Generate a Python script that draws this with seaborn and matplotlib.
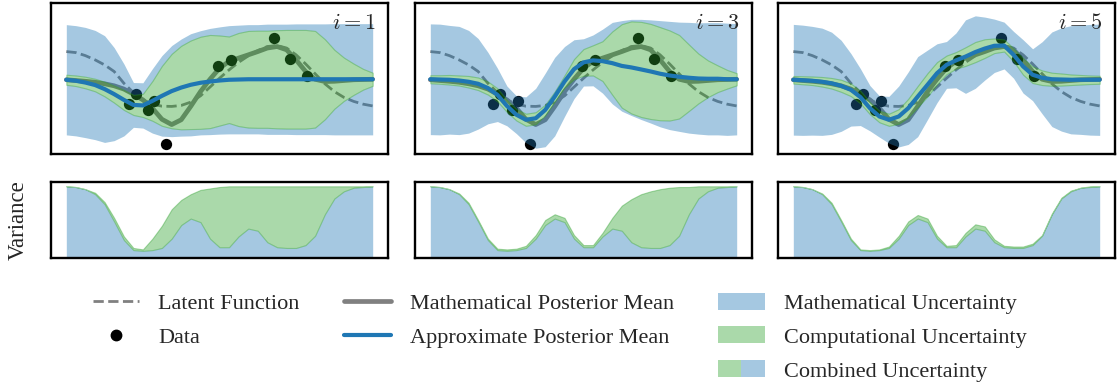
import numpy as np
import matplotlib
matplotlib.use("Agg")
import matplotlib.pyplot as plt
import seaborn as sns
from matplotlib.lines import Line2D
from matplotlib.patches import Patch
from matplotlib.legend_handler import HandlerTuple

# ---------------------------------------------------------------------------
# Data
# ---------------------------------------------------------------------------
iterations = [1, 3, 5]

x_grid = [0.000, 0.031, 0.062, 0.094, 0.125, 0.156, 0.188, 0.219, 0.250, 0.281,
          0.312, 0.344, 0.375, 0.406, 0.438, 0.469, 0.500, 0.531, 0.562, 0.594,
          0.625, 0.656, 0.688, 0.719, 0.750, 0.781, 0.812, 0.844, 0.875, 0.906,
          0.938, 0.969, 1.000]

data_x = [0.206, 0.228, 0.266, 0.285, 0.326, 0.495, 0.536, 0.678, 0.731, 0.784]
data_y = [-1.01, -0.61, -1.27, -0.91, -2.60, 0.48, 0.74, 1.60, 0.78, 0.11]

latent = [1.07, 1.03, 0.91, 0.74, 0.54, 0.28, -0.19, -0.56, -0.85, -1.02,
          -1.10, -1.11, -1.07, -0.94, -0.69, -0.34, 0.01, 0.34, 0.64, 0.90,
          1.11, 1.27, 1.31, 1.21, 0.94, 0.58, 0.19, -0.21, -0.52, -0.75,
          -0.91, -1.02, -1.09]

math_mean = [-0.05, -0.08, -0.11, -0.15, -0.21, -0.29, -0.42, -0.62, -0.85, -1.18,
             -1.62, -1.83, -1.64, -1.11, -0.52, -0.03, 0.41, 0.68, 0.81, 0.94,
             1.07, 1.21, 1.27, 1.14, 0.74, 0.28, -0.03, -0.12, -0.11, -0.08,
             -0.05, -0.04, -0.03]

# approximate posterior mean after i iterations
approx_mean_i1 = [-0.05, -0.09, -0.16, -0.26, -0.42, -0.62, -0.85, -1.05, -1.07, -0.89,
                  -0.69, -0.50, -0.36, -0.25, -0.17, -0.12, -0.08, -0.05, -0.04, -0.03,
                  -0.03, -0.03, -0.03, -0.03, -0.03, -0.03, -0.03, -0.03, -0.03, -0.03,
                  -0.03, -0.03, -0.03]
approx_mean_i3 = [-0.03, -0.04, -0.05, -0.08, -0.13, -0.21, -0.38, -0.65, -1.09, -1.44,
                  -1.64, -1.58, -1.25, -0.72, -0.12, 0.37, 0.64, 0.72, 0.69, 0.61,
                  0.50, 0.44, 0.36, 0.28, 0.19, 0.12, 0.07, 0.03, 0.00, -0.01,
                  -0.01, -0.03, -0.03]
approx_mean_i5 = [-0.05, -0.07, -0.09, -0.13, -0.19, -0.29, -0.45, -0.74, -1.18, -1.51,
                  -1.64, -1.51, -1.18, -0.72, -0.25, 0.21, 0.54, 0.72, 0.87, 1.05,
                  1.19, 1.30, 1.31, 0.94, 0.48, 0.15, 0.03, -0.03, -0.04, -0.05,
                  -0.05, -0.05, -0.05]

# half-width of the combined (outer) uncertainty band
combined_band_i1 = [2.19, 2.19, 2.19, 2.17, 2.12, 1.85, 1.43, 0.89, 0.90, 1.28,
                    1.60, 1.81, 1.93, 2.03, 2.07, 2.11, 2.13, 2.15, 2.16, 2.17,
                    2.17, 2.19, 2.19, 2.19, 2.20, 2.20, 2.20, 2.20, 2.21, 2.21,
                    2.21, 2.21, 2.21]
combined_band_i3 = [2.20, 2.20, 2.16, 2.15, 2.04, 1.80, 1.42, 1.06, 0.79, 0.75,
                    0.91, 1.19, 1.46, 1.56, 1.39, 1.17, 0.94, 1.01, 1.27, 1.62,
                    1.80, 1.91, 1.99, 2.05, 2.11, 2.15, 2.17, 2.20, 2.21, 2.23,
                    2.23, 2.23, 2.21]
combined_band_i5 = [2.20, 2.19, 2.16, 2.13, 2.03, 1.81, 1.44, 1.13, 0.90, 0.82,
                    0.93, 1.21, 1.44, 1.59, 1.38, 1.17, 0.93, 1.09, 1.46, 1.44,
                    1.25, 1.06, 0.93, 0.93, 1.06, 1.03, 1.43, 1.88, 2.05, 2.15,
                    2.17, 2.20, 2.21]

# half-width of the computational uncertainty band
comp_band_i1 = [0.20, 0.21, 0.23, 0.25, 0.29, 0.34, 0.40, 0.40, 0.46, 0.79,
                1.19, 1.48, 1.66, 1.76, 1.83, 1.85, 1.79, 1.72, 1.85, 1.92,
                1.93, 1.93, 1.95, 1.96, 1.96, 1.96, 1.92, 1.59, 1.17, 0.86,
                0.62, 0.41, 0.26]
comp_band_i3 = [0.16, 0.17, 0.19, 0.20, 0.23, 0.25, 0.26, 0.26, 0.24, 0.23,
                0.24, 0.24, 0.21, 0.20, 0.24, 0.40, 0.53, 0.60, 0.79, 1.26,
                1.66, 1.83, 1.89, 1.89, 1.85, 1.79, 1.66, 1.32, 0.99, 0.73,
                0.53, 0.37, 0.24]
comp_band_i5 = [0.15, 0.16, 0.17, 0.19, 0.21, 0.24, 0.25, 0.25, 0.24, 0.23,
                0.24, 0.29, 0.37, 0.42, 0.46, 0.44, 0.37, 0.33, 0.37, 0.40,
                0.37, 0.29, 0.24, 0.26, 0.33, 0.33, 0.29, 0.26, 0.24, 0.21,
                0.19, 0.17, 0.16]

# variances (relative to the prior variance)
math_var = [1.00, 0.99, 0.96, 0.89, 0.75, 0.51, 0.25, 0.11, 0.10, 0.11,
            0.14, 0.27, 0.46, 0.55, 0.50, 0.27, 0.15, 0.15, 0.30, 0.41,
            0.38, 0.22, 0.15, 0.14, 0.14, 0.18, 0.31, 0.61, 0.83, 0.93,
            0.98, 0.99, 1.00]
combined_var_i1 = [1.00, 0.99, 0.96, 0.91, 0.78, 0.56, 0.30, 0.14, 0.12, 0.27,
                   0.45, 0.68, 0.81, 0.89, 0.95, 0.97, 0.99, 1.00, 1.00, 1.00,
                   1.00, 1.00, 1.00, 1.00, 1.00, 1.00, 1.00, 1.00, 1.00, 1.00,
                   1.00, 1.00, 1.00]
combined_var_i3 = [1.00, 0.99, 0.96, 0.90, 0.77, 0.53, 0.27, 0.13, 0.12, 0.13,
                   0.17, 0.32, 0.53, 0.61, 0.56, 0.32, 0.18, 0.18, 0.35, 0.56,
                   0.73, 0.82, 0.89, 0.93, 0.96, 0.98, 0.99, 0.99, 1.00, 1.00,
                   1.00, 1.00, 1.00]
combined_var_i5 = [1.00, 0.99, 0.96, 0.90, 0.77, 0.53, 0.27, 0.12, 0.11, 0.12,
                   0.16, 0.31, 0.51, 0.60, 0.55, 0.31, 0.17, 0.18, 0.35, 0.47,
                   0.44, 0.26, 0.17, 0.16, 0.16, 0.20, 0.32, 0.62, 0.84, 0.94,
                   0.98, 1.00, 1.00]

approx_means = [approx_mean_i1, approx_mean_i3, approx_mean_i5]
combined_bands = [combined_band_i1, combined_band_i3, combined_band_i5]
comp_bands = [comp_band_i1, comp_band_i3, comp_band_i5]
combined_vars = [combined_var_i1, combined_var_i3, combined_var_i5]

# ---------------------------------------------------------------------------
# Style
# ---------------------------------------------------------------------------
sns.set_style("white")
plt.rcParams["font.family"] = ["Liberation Serif", "DejaVu Serif"]
plt.rcParams["mathtext.fontset"] = "cm"

BLUE = "#1f77b4"
GREEN = "#2ca02c"
GRAY = "#808080"
BAND_ALPHA = 0.4

W, H = 1119, 388
fig = plt.figure(figsize=(W / 100, H / 100), dpi=100)

col_left = [51, 415, 778]
col_width = 337
top_row = (3, 154)
bottom_row = (182, 258)


def frame(ax):
    ax.set(xticks=[], yticks=[], xlabel="", ylabel="")
    ax.set_xlim(-0.05, 1.05)
    for sp in ax.spines.values():
        sp.set_visible(True)
        sp.set_color("black")
        sp.set_linewidth(1.7)


x = np.array(x_grid)
for j, it in enumerate(iterations):
    ax = fig.add_axes([col_left[j] / W, 1 - top_row[1] / H,
                       col_width / W, (top_row[1] - top_row[0]) / H])
    axv = fig.add_axes([col_left[j] / W, 1 - bottom_row[1] / H,
                        col_width / W, (bottom_row[1] - bottom_row[0]) / H])

    mu = np.array(approx_means[j])
    cb = np.array(combined_bands[j])
    pb = np.array(comp_bands[j])

    # lines and data sit underneath the translucent bands
    sns.lineplot(x=x, y=latent, ax=ax, color=GRAY, linestyle="--",
                 linewidth=2.0, zorder=1, legend=False)
    sns.lineplot(x=x, y=math_mean, ax=ax, color=GRAY, linewidth=3.4,
                 zorder=1.1, legend=False)
    sns.scatterplot(x=data_x, y=data_y, ax=ax, color="black", s=66,
                    linewidth=0, zorder=1.5, legend=False)

    ax.fill_between(x, mu + pb, mu + cb, color=BLUE, alpha=BAND_ALPHA,
                    linewidth=0, zorder=2)
    ax.fill_between(x, mu - cb, mu - pb, color=BLUE, alpha=BAND_ALPHA,
                    linewidth=0, zorder=2)
    ax.fill_between(x, mu - pb, mu + pb, facecolor=GREEN, edgecolor=GREEN,
                    alpha=BAND_ALPHA, linewidth=0.8, zorder=2)

    sns.lineplot(x=x, y=mu, ax=ax, color=BLUE, linewidth=3.0, zorder=3,
                 legend=False)

    ax.set_ylim(-3, 3)
    frame(ax)
    ax.text(0.965, 0.93, rf"$i = {it}$", transform=ax.transAxes,
            ha="right", va="top", fontsize=16)

    # variance decomposition
    axv.fill_between(x, 0, math_var, color=BLUE, alpha=BAND_ALPHA,
                     linewidth=0, zorder=1)
    axv.fill_between(x, math_var, combined_vars[j], facecolor=GREEN,
                     edgecolor=GREEN, alpha=BAND_ALPHA, linewidth=0.8, zorder=2)
    axv.set_ylim(0, 1.06)
    frame(axv)

fig.text(18 / W, 1 - 220 / H, "Variance", rotation=90, ha="center",
         va="center", fontsize=16.5)

# ---------------------------------------------------------------------------
# Legend
# ---------------------------------------------------------------------------
blank = Line2D([], [], linestyle="none")
green_patch = Patch(facecolor=GREEN, alpha=BAND_ALPHA, linewidth=0)
blue_patch = Patch(facecolor=BLUE, alpha=BAND_ALPHA, linewidth=0)
handles = [
    Line2D([], [], color=GRAY, linestyle="--", linewidth=2.0),
    Line2D([], [], color="black", marker="o", linestyle="none", markersize=7.5),
    blank,
    Line2D([], [], color=GRAY, linewidth=3.4),
    Line2D([], [], color=BLUE, linewidth=3.0),
    blank,
    Patch(facecolor=BLUE, alpha=BAND_ALPHA, linewidth=0),
    Patch(facecolor=GREEN, alpha=BAND_ALPHA, linewidth=0),
    (green_patch, blue_patch),
]
labels = ["Latent Function", "Data", "",
          "Mathematical Posterior Mean", "Approximate Posterior Mean", "",
          "Mathematical Uncertainty", "Computational Uncertainty",
          "Combined Uncertainty"]
fig.legend(handles, labels, ncol=3, loc="center",
           bbox_to_anchor=(0.5, 1 - 337 / H), frameon=False, fontsize=16,
           handlelength=2.1, handleheight=0.8, handletextpad=0.85,
           columnspacing=2.0, labelspacing=0.57,
           handler_map={tuple: HandlerTuple(ndivide=None, pad=0)})

fig.savefig("out.png", dpi=100)
